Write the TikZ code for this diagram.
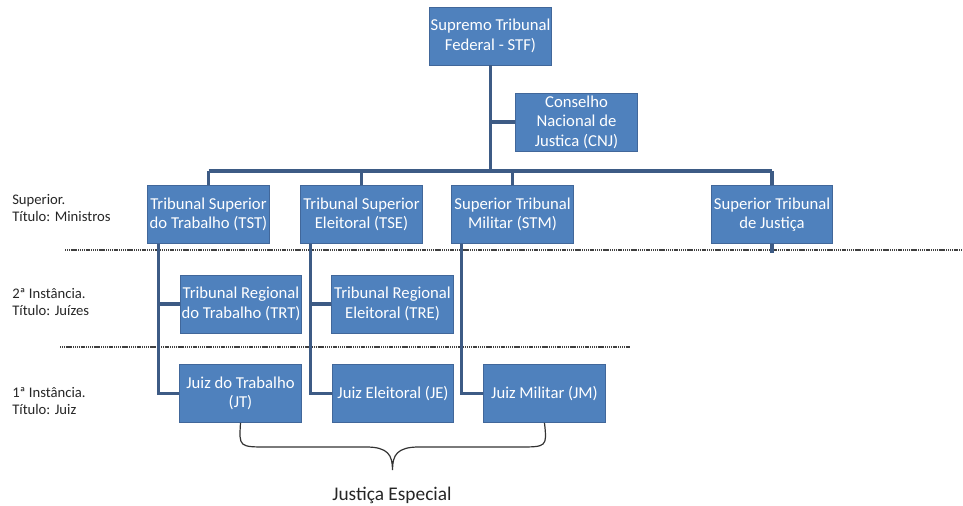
\documentclass[tikz,border=0pt]{standalone}
\usepackage{fontspec}
\setmainfont{Carlito}
\definecolor{boxfill}{HTML}{4F81BD}
\definecolor{boxedge}{HTML}{41679A}
\definecolor{connc}{HTML}{3D5B85}
\begin{document}
\begin{tikzpicture}[x=0.75pt,y=-0.75pt,
  box/.style={draw=boxedge, line width=0.6pt, fill=boxfill, text=white, align=center,
    inner sep=0pt, minimum width=91pt, minimum height=43.5pt,
    font=\fontsize{12.5}{14.6}\selectfont},
  conn/.style={draw=connc, line width=2.3pt},
  lbl/.style={anchor=west, align=left, inner sep=0pt, text=black!85,
    font=\fontsize{11}{12.8}\selectfont},
  dots/.style={draw=black!75, line width=0.8pt, dash pattern=on 0.9pt off 0.5pt},
  brace/.style={draw=black!80, line width=0.9pt}]
\useasboundingbox (0,0) rectangle (963,506);

% boxes
\node[box] (STF) at (490.5,36) {Supremo Tribunal\\Federal - STF)};
\node[box, minimum width=92pt] (CNJ) at (576.5,122) {Conselho\\Nacional de\\Justica (CNJ)};
\node[box] (TST) at (208.5,214.5) {Tribunal Superior\\do Trabalho (TST)};
\node[box] (TSE) at (361.5,214.5) {Tribunal Superior\\Eleitoral (TSE)};
\node[box] (STM) at (512.5,214.5) {Superior Tribunal\\Militar (STM)};
\node[box] (STJ) at (772,214.5) {Superior Tribunal\\de Justiça};
\node[box] (TRT) at (241,304) {Tribunal Regional\\do Trabalho (TRT)};
\node[box] (TRE) at (392.5,304) {Tribunal Regional\\Eleitoral (TRE)};
\node[box] (JT) at (240.5,393.5) {Juiz do Trabalho\\(JT)};
\node[box] (JE) at (393,393.5) {Juiz Eleitoral (JE)};
\node[box, minimum width=92pt] (JM) at (544.5,393.5) {Juiz Militar (JM)};

% level labels
\node[lbl] (l1) at (12,208) {Superior.\\Título: Ministros};
\node[lbl] (l2) at (12,302) {2ª Instância.\\Título: Juízes};
\node[lbl] (l3) at (12,401) {1ª Instância.\\Título: Juiz};

% dotted separators
\draw[dots] (65,250) -- (963,250);
\draw[dots] (60,347) -- (630,347);

% connectors
\coordinate (busL) at (208.5,171);
\coordinate (busR) at (772,171);
\draw[conn] (busL) -- (busR);
\draw[conn] (STF.south) -- (STF.south |- busL);
\draw[conn] (CNJ.west) -- (CNJ.west -| STF.south);
\draw[conn] (TST.north) -- (TST.north |- busL);
\draw[conn] (TSE.north) -- (TSE.north |- busL);
\draw[conn] (STM.north) -- (STM.north |- busL);
\draw[conn] (STJ.north) -- (STJ.north |- busL);
\draw[conn] (STJ.south) -- ++(0,9);

\coordinate (v1) at ([xshift=8pt]TST.south west);
\coordinate (v2) at ([xshift=7.5pt]TSE.south west);
\coordinate (v3) at ([xshift=7.5pt]STM.south west);
\draw[conn] (v1) |- (JT.west);
\draw[conn] (v2) |- (JE.west);
\draw[conn] (v3) |- (JM.west);
\draw[conn] (TRT.west) -- (TRT.west -| v1);
\draw[conn] (TRE.west) -- (TRE.west -| v2);

% brace
\coordinate (tip) at (392.5,470);
\draw[brace] (JT.south) .. controls (239,447) and (239,447) .. (268,447)
  -- (366,447) .. controls (388,447) and (392.5,455) .. (tip)
  .. controls (392.5,455) and (397,447) .. (419,447)
  -- (518,447) .. controls (547,447) and (547,447) .. (JM.south);
\node[anchor=base, inner sep=0pt, text=black!85, font=\fontsize{14.5}{17}\selectfont] (JEsp) at (392,500) {Justiça Especial};
\end{tikzpicture}
\end{document}
